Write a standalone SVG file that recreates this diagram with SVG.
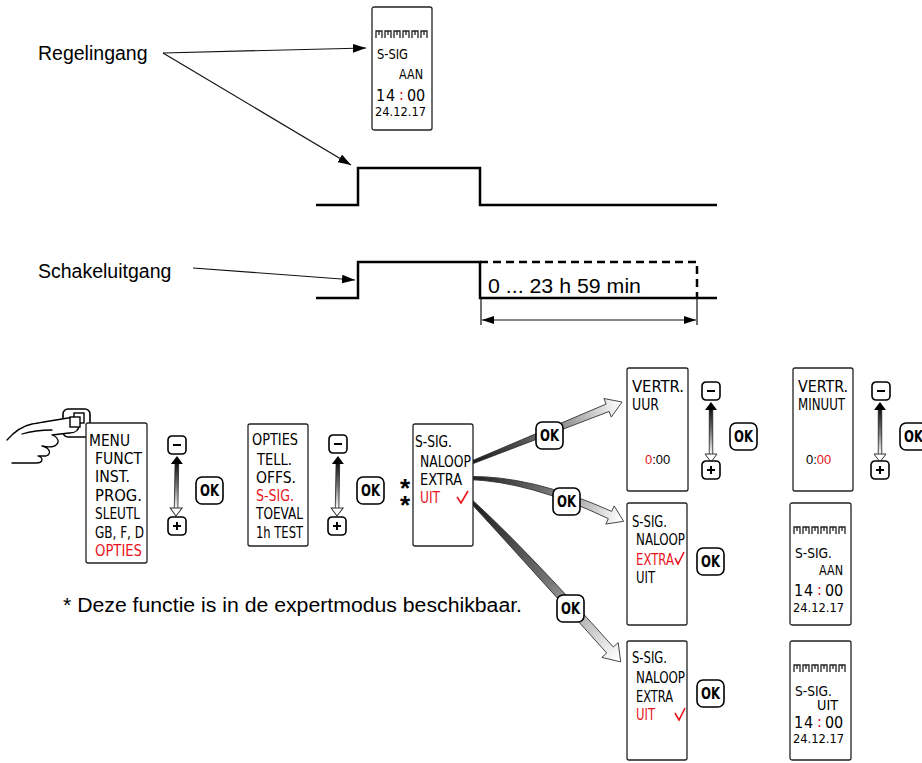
<svg xmlns="http://www.w3.org/2000/svg" xmlns:xlink="http://www.w3.org/1999/xlink" width="922" height="763" viewBox="0 0 922 763">
<style>
.lbl{font-family:"Liberation Sans",Arial,sans-serif;font-size:19.5px;fill:#000}
.lcd{font-family:"DejaVu Sans Condensed","Liberation Sans",sans-serif;font-size:16px;fill:#000}
.sm{font-size:14px}
.dg{font-family:"DejaVu Sans Condensed","Liberation Sans",sans-serif;font-size:16px;fill:#000}
.dt{font-family:"DejaVu Sans Condensed","Liberation Sans",sans-serif;font-size:13px;fill:#000}
.dig{font-family:"Liberation Sans",Arial,sans-serif;font-size:13px;fill:#000}
.red{fill:#e8141c}
.box{fill:#fff;stroke:#222;stroke-width:1.3}
.btn{fill:#fff;stroke:#000;stroke-width:1.6}
.ok{font-family:"DejaVu Sans Condensed","Liberation Sans",sans-serif;font-weight:bold;font-size:15px;text-anchor:middle;fill:#000}
.sig{fill:none;stroke:#000;stroke-width:2.5}
.thin{fill:none;stroke:#111;stroke-width:1.2}
.hand{fill:#fff;stroke:#000;stroke-width:1.3;stroke-linejoin:round;stroke-linecap:round}
.chk{fill:none;stroke:#e8141c;stroke-width:1.6}
.big{stroke:#333;stroke-width:0.9;stroke-linejoin:round}
.ast{font-family:"Liberation Sans",Arial,sans-serif;font-size:26px;font-weight:bold;fill:#000}
</style>
<defs>
<marker id="ah" viewBox="0 0 12 8" refX="12" refY="4" markerWidth="13" markerHeight="9" markerUnits="userSpaceOnUse" orient="auto"><path d="M0,0 L12,4 L0,8 z" fill="#000"/></marker>
<marker id="ad" viewBox="0 0 12 8" refX="12" refY="4" markerWidth="12" markerHeight="8" markerUnits="userSpaceOnUse" orient="auto-start-reverse"><path d="M0,0 L12,4 L0,8 z" fill="#000"/></marker>
<path id="seg" d="M0,7V0H6V7M3,0V4M9,7V0H15V7M12,0V4M18,7V0H24V7M21,0V4M27,7V0H33V7M30,0V4M36,7V0H42V7M39,0V4M45,7V0H51V7M48,0V4" fill="none" stroke="#222" stroke-width="1.3"/>
<linearGradient id="sh" x1="0" y1="0" x2="0" y2="1"><stop offset="0" stop-color="#111"/><stop offset="0.5" stop-color="#777"/><stop offset="1" stop-color="#fff"/></linearGradient>
<g id="dbl">
<rect x="-1.8" y="7" width="3.6" height="46" fill="url(#sh)" stroke="#222" stroke-width="0.8"/>
<path d="M0,0 L6,8 L-6,8 z" fill="#000"/>
<path d="M-6,52 L6,52 L0,60 z" fill="#fff" stroke="#333" stroke-width="1"/>
</g>
<g id="minus"><rect x="0" y="0" width="18" height="18" rx="4" class="btn"/><path d="M5,9H13" stroke="#000" stroke-width="2"/></g>
<g id="plus"><rect x="0" y="0" width="18" height="18" rx="4" class="btn"/><path d="M5,9H13M9,5V13" stroke="#000" stroke-width="2"/></g>
<g id="okb"><rect x="0" y="0" width="27" height="27" rx="6" class="btn"/><text x="13.5" y="19" class="ok" textLength="19" lengthAdjust="spacingAndGlyphs">OK</text></g>
<linearGradient id="g1" gradientUnits="userSpaceOnUse" x1="473" y1="462" x2="620" y2="402"><stop offset="0" stop-color="#1a1a1a"/><stop offset="0.5" stop-color="#707070"/><stop offset="1" stop-color="#fff"/></linearGradient>
<linearGradient id="g2" gradientUnits="userSpaceOnUse" x1="467" y1="478" x2="620" y2="520"><stop offset="0" stop-color="#1a1a1a"/><stop offset="0.5" stop-color="#707070"/><stop offset="1" stop-color="#fff"/></linearGradient>
<linearGradient id="g3" gradientUnits="userSpaceOnUse" x1="470" y1="500" x2="618" y2="660"><stop offset="0" stop-color="#1a1a1a"/><stop offset="0.5" stop-color="#707070"/><stop offset="1" stop-color="#fff"/></linearGradient>
</defs>
<rect width="922" height="763" fill="#fff"/>

<text class="lbl" x="38" y="60">Regelingang</text>
<text class="lbl" x="38" y="278">Schakeluitgang</text>
<text class="lbl" x="488" y="293" font-size="20.5px" textLength="153" lengthAdjust="spacingAndGlyphs">0 ... 23 h 59 min</text>
<text class="lbl" x="63" y="612" font-size="22px" textLength="459" lengthAdjust="spacingAndGlyphs">* Deze functie is in de expertmodus beschikbaar.</text>

<g id="signals">
<path class="sig" d="M316,205 H358 V168 H480 V205 H717"/>
<path class="sig" d="M316,298 H358 V262 H480 V298 H717"/>
<path class="sig" d="M480,262 H697 V298" stroke-dasharray="8,5"/>
</g>

<g id="connectors">
<line class="thin" x1="163" y1="53" x2="366" y2="48" marker-end="url(#ah)"/>
<line class="thin" x1="163" y1="53" x2="351" y2="165" marker-end="url(#ah)"/>
<line class="thin" x1="193" y1="268" x2="355" y2="280" marker-end="url(#ah)"/>
<line class="thin" x1="481" y1="298" x2="481" y2="325"/>
<line class="thin" x1="697" y1="298" x2="697" y2="325"/>
<line class="thin" x1="482" y1="320" x2="696" y2="320" marker-start="url(#ad)" marker-end="url(#ad)"/>
<path class="big" fill="url(#g1)" d="M472.4,460.6 L606.1,404.1 L603.9,398.5 L622,402 L611.3,417.1 L609.1,411.5 L473.6,463.4 Z"/>
<path class="big" fill="url(#g2)" d="M467,476.5 Q531,475 611.7,511.4 L614.2,505.9 L623.6,521.3 L605.8,524.1 L608.3,518.6 Q529,481 467,479.5 Z"/>
<path class="big" fill="url(#g3)" d="M471.1,498.9 Q524,547 613.3,647 L618.2,642.6 L620.7,661.9 L601.8,657.4 L606.7,653 Q517,553 468.9,501.1 Z"/>
<use href="#dbl" transform="translate(177,456) rotate(1)"/>
<use href="#dbl" transform="translate(338,456) rotate(1)"/>
<use href="#dbl" transform="translate(711,402)"/>
<use href="#dbl" transform="translate(880,402)"/>
</g>

<g id="display-top" transform="translate(372,7)">
<rect x="0" y="0" width="60" height="123" rx="2" class="box"/>
<use href="#seg" x="4" y="24"/>
<text class="lcd sm" x="5" y="52" textLength="31" lengthAdjust="spacingAndGlyphs">S-SIG</text>
<text class="lcd sm" x="27" y="72" textLength="24" lengthAdjust="spacingAndGlyphs">AAN</text>
<text class="dg" x="4 14" y="94">14</text>
<text class="dg red" x="27" y="93">:</text>
<text class="dg" x="35 44" y="94">00</text>
<text class="dt" x="3" y="109" textLength="51" lengthAdjust="spacingAndGlyphs">24.12.17</text>
</g>

<g id="hand">
<rect x="63" y="409" width="27" height="28" rx="5" class="btn"/>
<path class="hand" d="M7,440 C14,432 22,426 32,424 C44,422 55,420 68,418 C74,417 79,419 79,425 C79,431 74,433 69,433 L52,435 C58,437 60,442 56,445 C53,448 47,447 42,446 C50,448 52,454 46,456 L38,456 C44,458 43,463 36,463 L12,463"/>
<path class="hand" fill="none" d="M22,434 C32,431 42,430 52,430"/>
<rect x="74" y="413" width="10" height="10" fill="none" stroke="#000" stroke-width="1.4"/>
<rect x="70" y="417" width="10" height="10" fill="#fff" stroke="#000" stroke-width="1.4"/>
</g>

<g id="menu">
<rect x="86" y="423" width="61" height="140" rx="2" class="box"/>
<text class="lcd" x="89" y="446" textLength="41" lengthAdjust="spacingAndGlyphs">MENU</text>
<text class="lcd" x="95" y="464" textLength="47" lengthAdjust="spacingAndGlyphs">FUNCT</text>
<text class="lcd" x="95" y="482" textLength="35" lengthAdjust="spacingAndGlyphs">INST.</text>
<text class="lcd" x="95" y="501" textLength="47" lengthAdjust="spacingAndGlyphs">PROG.</text>
<text class="lcd" x="95" y="519" textLength="45" lengthAdjust="spacingAndGlyphs">SLEUTL</text>
<text class="lcd" x="95" y="538" textLength="49" lengthAdjust="spacingAndGlyphs">GB, F, D</text>
<text class="lcd red" x="95" y="556" textLength="47" lengthAdjust="spacingAndGlyphs">OPTIES</text>
</g>
<use id="menu-minus" href="#minus" x="168" y="436"/>
<use id="menu-plus" href="#plus" x="168" y="517"/>
<use id="ok1" href="#okb" x="196" y="477"/>

<g id="opties">
<rect x="248" y="424" width="60" height="122" rx="2" class="box"/>
<text class="lcd" x="252" y="445" textLength="46" lengthAdjust="spacingAndGlyphs">OPTIES</text>
<text class="lcd" x="257" y="465" textLength="35" lengthAdjust="spacingAndGlyphs">TELL.</text>
<text class="lcd" x="256" y="483" textLength="40" lengthAdjust="spacingAndGlyphs">OFFS.</text>
<text class="lcd red" x="256" y="501" textLength="38" lengthAdjust="spacingAndGlyphs">S-SIG.</text>
<text class="lcd" x="256" y="519" textLength="47" lengthAdjust="spacingAndGlyphs">TOEVAL</text>
<text class="lcd" x="256" y="538" textLength="47" lengthAdjust="spacingAndGlyphs">1h TEST</text>
</g>
<use id="opt-minus" href="#minus" x="329" y="435"/>
<use id="opt-plus" href="#plus" x="328" y="517"/>
<use id="ok2" href="#okb" x="357" y="477"/>

<g id="ssig">
<rect x="413" y="424" width="60" height="122" rx="2" class="box"/>
<text class="lcd" x="415" y="447" textLength="37" lengthAdjust="spacingAndGlyphs">S-SIG.</text>
<text class="lcd" x="420" y="467" textLength="51" lengthAdjust="spacingAndGlyphs">NALOOP</text>
<text class="lcd" x="420" y="485" textLength="42" lengthAdjust="spacingAndGlyphs">EXTRA</text>
<text class="lcd red" x="420" y="503" textLength="20" lengthAdjust="spacingAndGlyphs">UIT</text>
<path class="chk" d="M457,497 L461,503 L468,491"/>
<text class="ast" x="400 400" y="497 514">**</text>
</g>
<use id="ok3" href="#okb" x="536" y="422"/>
<use id="ok4" href="#okb" x="553" y="488"/>
<use id="ok5" href="#okb" x="557" y="595"/>

<g id="vertr-uur">
<rect x="627" y="368" width="61" height="123" rx="2" class="box"/>
<text class="lcd" x="632" y="392" textLength="52" lengthAdjust="spacingAndGlyphs">VERTR.</text>
<text class="lcd" x="632" y="410" textLength="27" lengthAdjust="spacingAndGlyphs">UUR</text>
<text class="dig" x="645" y="464"><tspan class="red">0</tspan>:00</text>
</g>
<use href="#minus" x="702" y="382"/>
<use href="#plus" x="702" y="461"/>
<use id="ok6" href="#okb" x="730" y="423"/>

<g id="vertr-min">
<rect x="793" y="368" width="60" height="123" rx="2" class="box"/>
<text class="lcd" x="798" y="392" textLength="50" lengthAdjust="spacingAndGlyphs">VERTR.</text>
<text class="lcd" x="798" y="410" textLength="47" lengthAdjust="spacingAndGlyphs">MINUUT</text>
<text class="dig" x="806" y="464">0:<tspan class="red">00</tspan></text>
</g>
<use href="#minus" x="872" y="382"/>
<use href="#plus" x="871" y="461"/>
<use id="ok7" href="#okb" x="900" y="423"/>

<g id="extra">
<rect x="627" y="503" width="60" height="122" rx="2" class="box"/>
<text class="lcd" x="632" y="527" textLength="35" lengthAdjust="spacingAndGlyphs">S-SIG.</text>
<text class="lcd" x="636" y="545" textLength="49" lengthAdjust="spacingAndGlyphs">NALOOP</text>
<text class="lcd red" x="636" y="565" textLength="38" lengthAdjust="spacingAndGlyphs">EXTRA</text>
<path class="chk" d="M675,558 L678,564 L684,552"/>
<text class="lcd" x="636" y="583" textLength="19" lengthAdjust="spacingAndGlyphs">UIT</text>
</g>
<use id="ok8" href="#okb" x="697" y="548"/>

<g id="display-aan" transform="translate(790,503)">
<rect x="0" y="0" width="61" height="122" rx="2" class="box"/>
<use href="#seg" x="4" y="24"/>
<text class="lcd sm" x="5" y="55" textLength="37" lengthAdjust="spacingAndGlyphs">S-SIG.</text>
<text class="lcd sm" x="29" y="72" textLength="24" lengthAdjust="spacingAndGlyphs">AAN</text>
<text class="dg" x="4 14" y="93">14</text>
<text class="dg red" x="27" y="92">:</text>
<text class="dg" x="35 44" y="93">00</text>
<text class="dt" x="3" y="109" textLength="51" lengthAdjust="spacingAndGlyphs">24.12.17</text>
</g>

<g id="uit">
<rect x="627" y="641" width="60" height="119" rx="2" class="box"/>
<text class="lcd" x="632" y="663" textLength="35" lengthAdjust="spacingAndGlyphs">S-SIG.</text>
<text class="lcd" x="636" y="683" textLength="49" lengthAdjust="spacingAndGlyphs">NALOOP</text>
<text class="lcd" x="636" y="702" textLength="37" lengthAdjust="spacingAndGlyphs">EXTRA</text>
<text class="lcd red" x="636" y="720" textLength="19" lengthAdjust="spacingAndGlyphs">UIT</text>
<path class="chk" d="M675,713 L679,720 L685,708"/>
</g>
<use id="ok9" href="#okb" x="697" y="680"/>

<g id="display-uit" transform="translate(790,641)">
<rect x="0" y="0" width="61" height="119" rx="2" class="box"/>
<use href="#seg" x="4" y="24"/>
<text class="lcd sm" x="5" y="55" textLength="37" lengthAdjust="spacingAndGlyphs">S-SIG.</text>
<text class="lcd sm" x="27" y="69" textLength="21" lengthAdjust="spacingAndGlyphs">UIT</text>
<text class="dg" x="4 14" y="87">14</text>
<text class="dg red" x="27" y="86">:</text>
<text class="dg" x="35 44" y="87">00</text>
<text class="dt" x="3" y="102" textLength="51" lengthAdjust="spacingAndGlyphs">24.12.17</text>
</g>
</svg>
